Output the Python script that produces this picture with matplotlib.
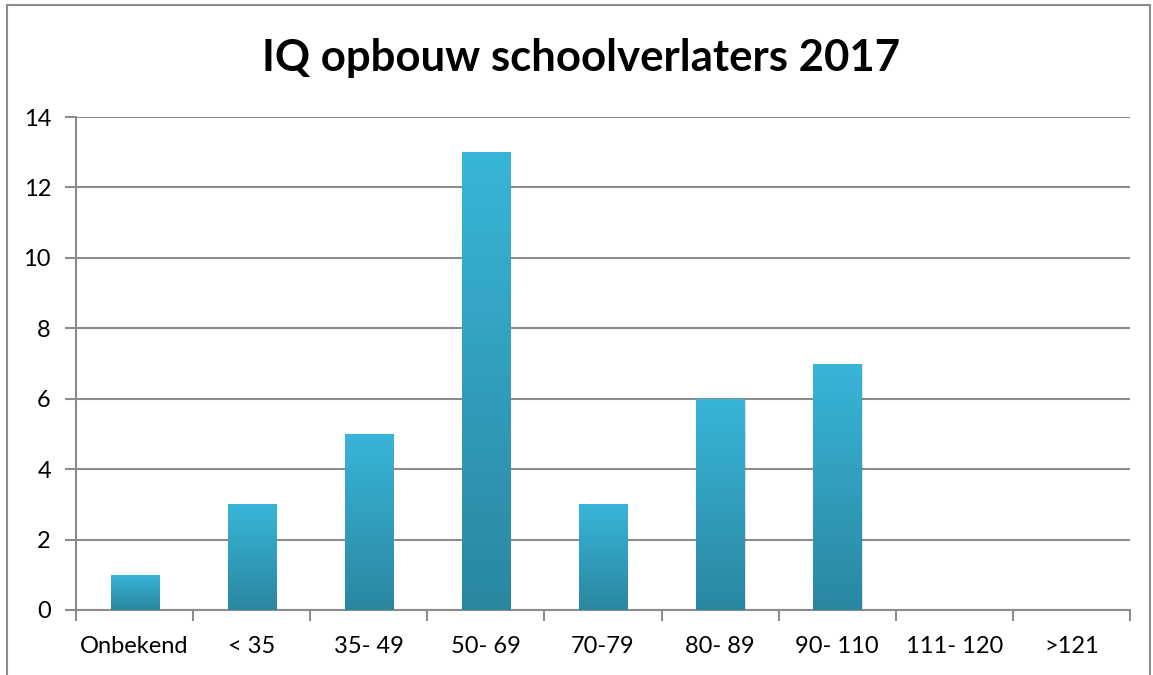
import matplotlib
matplotlib.use("Agg")
import matplotlib.pyplot as plt
import numpy as np
from matplotlib.patches import Rectangle
from matplotlib.colors import LinearSegmentedColormap

categories = ["Onbekend", "< 35", "35- 49", "50- 69", "70-79", "80- 89", "90- 110", "111- 120", ">121"]
values = [1, 3, 5, 13, 3, 6, 7, 0, 0]
title = "IQ opbouw schoolverlaters 2017"

plt.rcParams['font.family'] = ['Lato', 'DejaVu Sans']

W, H = 1153, 675
fig = plt.figure(figsize=(W/100, H/100), dpi=100)
ax = fig.add_axes([76/W, 1-610/H, (1130-76)/W, (610-117)/H])

grid_c = "#8c8c8c"
x = np.arange(len(categories))
bars = ax.bar(x, values, width=0.41, color="none", zorder=3)

cmap = LinearSegmentedColormap.from_list("g", ["#2a87a0", "#38b5d9"])
grad = np.linspace(0, 1, 256).reshape(-1, 1)
for b, v in zip(bars, values):
    if v <= 0:
        continue
    x0, w = b.get_x(), b.get_width()
    sh = Rectangle((x0 + 0.012, 0), w, v - 0.05, facecolor="#000000", alpha=0.12,
                   edgecolor="none", zorder=2.5)
    ax.add_patch(sh)
    im = ax.imshow(grad, extent=(x0, x0 + w, 0, v), origin="lower", cmap=cmap,
                   aspect="auto", zorder=3, interpolation="bilinear")
    im.set_clip_path(b)

ax.set_xlim(-0.5, len(categories) - 0.5)
ax.set_ylim(0, 14)
ax.set_yticks(np.arange(0, 15, 2))
ax.yaxis.grid(True, color=grid_c, linewidth=1.5, zorder=0)
ax.set_axisbelow(True)

ax.set_xticks(x)
ax.set_xticklabels(categories)
ax.set_xticks(np.arange(-0.5, len(categories), 1), minor=True)
ax.tick_params(axis="x", which="major", length=0, pad=19, labelsize=17)
ax.tick_params(axis="x", which="minor", length=8, width=1.5, color=grid_c, direction="out")
ax.tick_params(axis="y", length=8, width=1.5, color=grid_c, pad=10, labelsize=17)

for s in ["top", "right"]:
    ax.spines[s].set_visible(False)
for s in ["left", "bottom"]:
    ax.spines[s].set_color(grid_c)
    ax.spines[s].set_linewidth(1.5)

fig.text(581/W, 1-58/H, title, ha="center", va="center", fontsize=31.5, fontweight="bold")

border = Rectangle((7/W, -0.01), (1150-7)/W, 1 - 5/H + 0.01, transform=fig.transFigure,
                   fill=False, edgecolor="#8c8c8c", linewidth=1.5)
fig.patches.append(border)

fig.savefig("out.png", dpi=100)
